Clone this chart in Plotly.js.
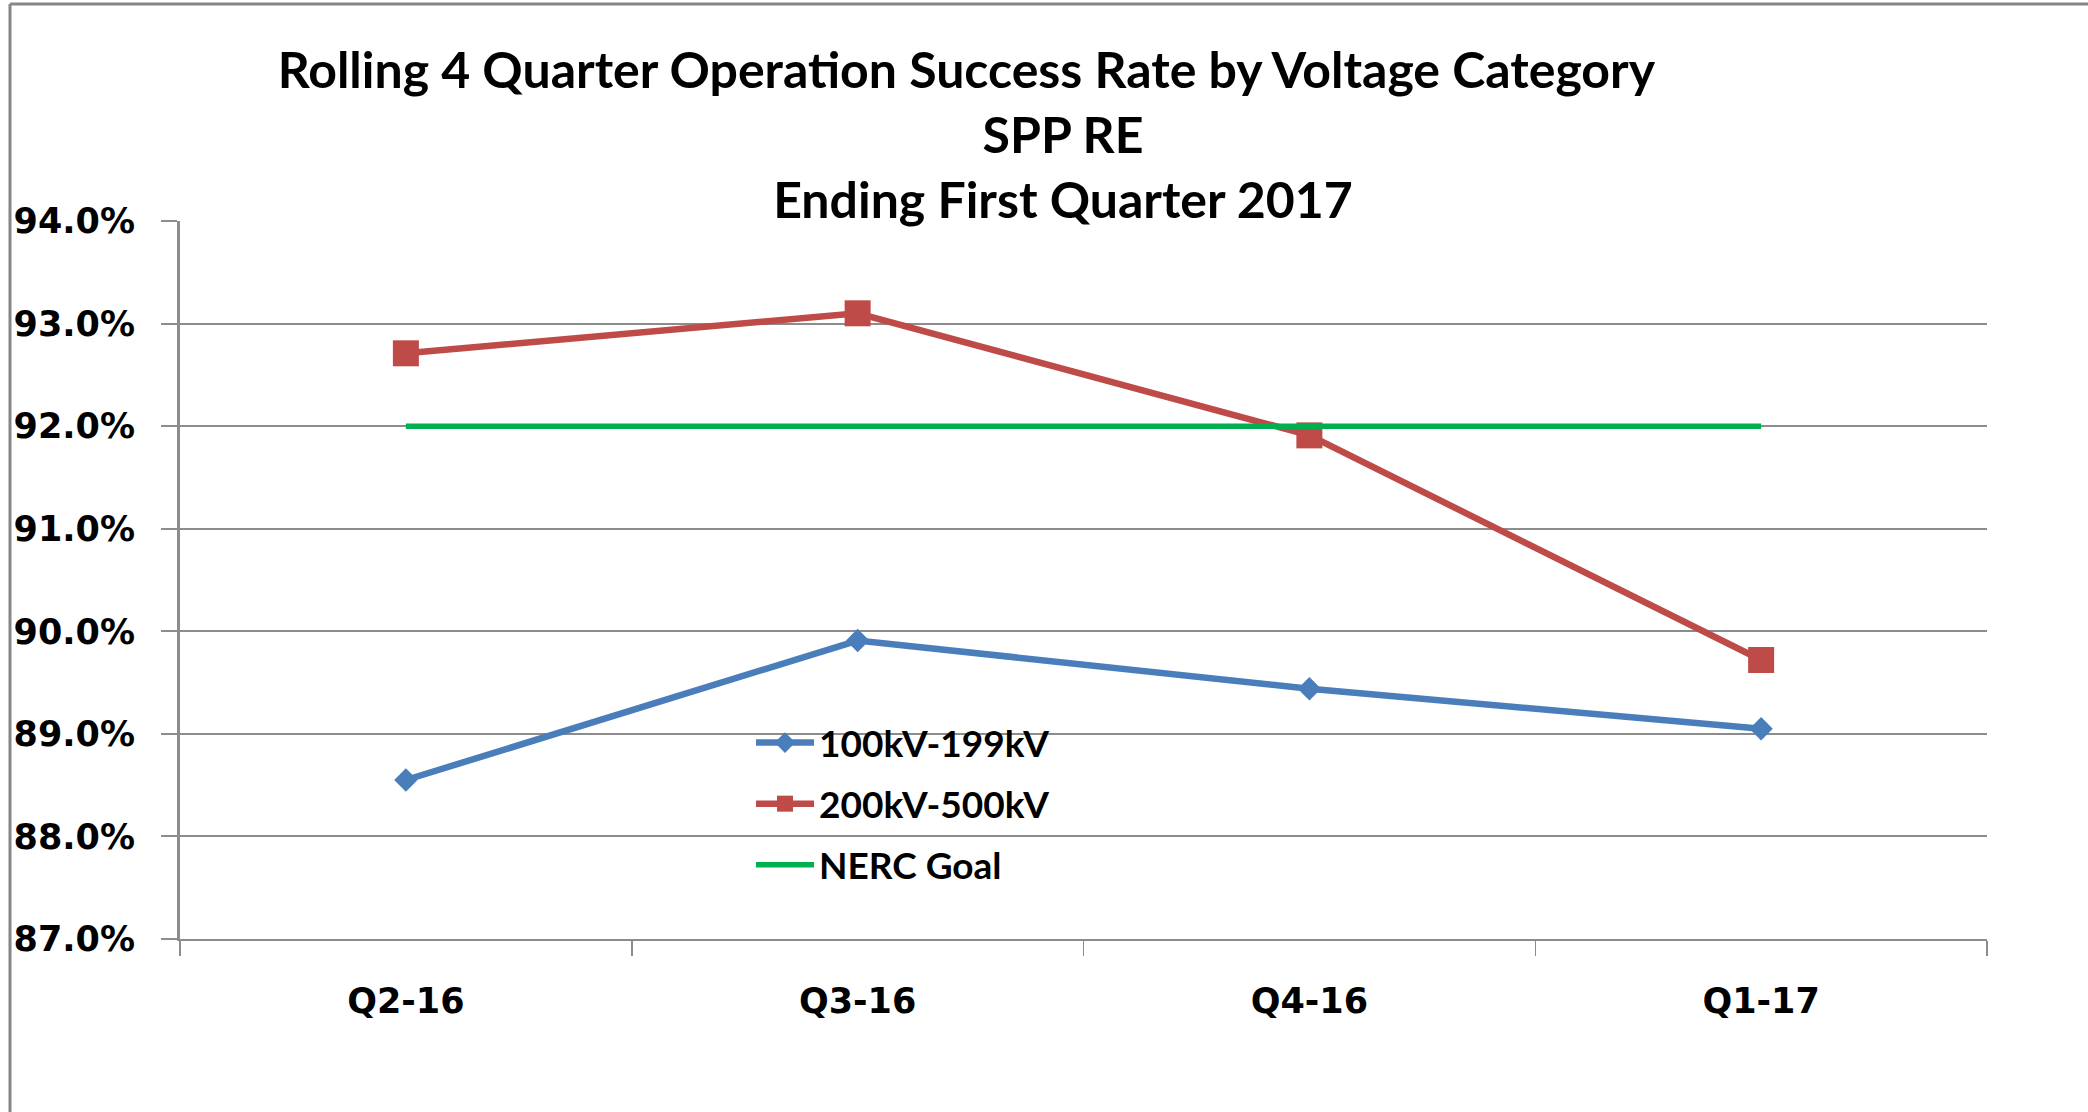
<!DOCTYPE html>
<html>
<head>
<meta charset="utf-8">
<script src="https://cdn.plot.ly/plotly-3.0.1.min.js"></script>
<style>
  html, body { margin: 0; padding: 0; background: #fff; }
  #chart { width: 2088px; height: 1112px; }
</style>
</head>
<body>
<div id="chart"></div>
<script>
// ---- data ----
var quarters = ["Q2-16", "Q3-16", "Q4-16", "Q1-17"];
var kv100to199 = [0.8855, 0.8991, 0.8944, 0.8905];
var kv200to500 = [0.9271, 0.9310, 0.9191, 0.8972];
var nercGoal = [0.92, 0.92, 0.92, 0.92];
var seriesNames = ["100kV-199kV", "200kV-500kV", "NERC Goal"];
var titleLines = ["Rolling 4 Quarter Operation Success Rate by Voltage Category", "SPP RE", "Ending First Quarter 2017"];

var pad = "";
for (var i = 0; i < 16; i++) pad += "\u00A0";

var traces = [
  {
    x: quarters, y: kv100to199, name: seriesNames[0], type: "scatter", mode: "lines+markers",
    line: { color: "#4A7EBB", width: 6.5 },
    marker: { symbol: "diamond", size: 18, color: "#4A7EBB" },
    legendgroup: "a"
  },
  {
    x: quarters, y: kv200to500, name: seriesNames[1], type: "scatter", mode: "lines+markers",
    line: { color: "#BE4B48", width: 6.5 },
    marker: { symbol: "square", size: 26, color: "#BE4B48" },
    legendgroup: "b"
  },
  {
    x: quarters, y: nercGoal, name: seriesNames[2], type: "scatter", mode: "lines",
    line: { color: "#00B050", width: 5.5 },
    legendgroup: "c"
  }
];

var W = 2088, H = 1112;
var L = 180, R = 101, T = 221, B = 173;
var pw = W - L - R, ph = H - T - B;
function px(xp) { return (xp - L) / pw; }
function py(yp) { return (H - B - yp) / ph; }

var layout = {
  width: W, height: H,
  margin: { l: L, r: R, t: T, b: B },
  paper_bgcolor: "#ffffff",
  plot_bgcolor: "#ffffff",
  showlegend: true,
  title: {
    text: titleLines[0] + pad + "<br>" + titleLines[1] + "<br>" + titleLines[2],
    font: { family: "Lato", size: 50, color: "#000000", weight: "bold" },
    xref: "container", x: 1063 / W, xanchor: "center",
    yref: "container", y: 1 - 88 / H, yanchor: "top"
  },
  xaxis: {
    type: "category",
    range: [-0.5, 3.5],
    showgrid: false,
    showline: true, linecolor: "#8C8C8C", linewidth: 2,
    ticks: "outside", tickson: "boundaries", ticklen: 15, tickcolor: "#8C8C8C", tickwidth: 1.5,
    tickfont: { family: "DejaVu Sans", size: 35, color: "#000", weight: "bold" },
    ticklabelstandoff: 30,
    zeroline: false
  },
  yaxis: {
    range: [0.87, 0.94],
    dtick: 0.01, tick0: 0.87,
    tickformat: ".1%",
    showgrid: true, gridcolor: "#8C8C8C", gridwidth: 2,
    showline: true, linecolor: "#8C8C8C", linewidth: 3,
    ticks: "outside", ticklen: 16, tickcolor: "#8C8C8C", tickwidth: 2,
    tickfont: { family: "DejaVu Sans", size: 35, color: "#000", weight: "bold" },
    ticklabelstandoff: 19,
    zeroline: false
  },
  legend: {
    x: px(751), xanchor: "left",
    y: py(712), yanchor: "top",
    bgcolor: "rgba(0,0,0,0)",
    font: { family: "Lato", size: 37, color: "#000", weight: "bold" },
    itemwidth: 58,
    traceorder: "grouped",
    tracegroupgap: 10
  },
  shapes: [
    { type: "line", xref: "paper", yref: "paper", x0: px(10), x1: px(10), y0: py(1112), y1: py(4),
      line: { color: "#868686", width: 3 } },
    { type: "line", xref: "paper", yref: "paper", x0: px(10), x1: px(2088), y0: py(4), y1: py(4),
      line: { color: "#868686", width: 3 } }
  ]
};

Plotly.newPlot("chart", traces, layout, { displayModeBar: false, staticPlot: true });
</script>
</body>
</html>
